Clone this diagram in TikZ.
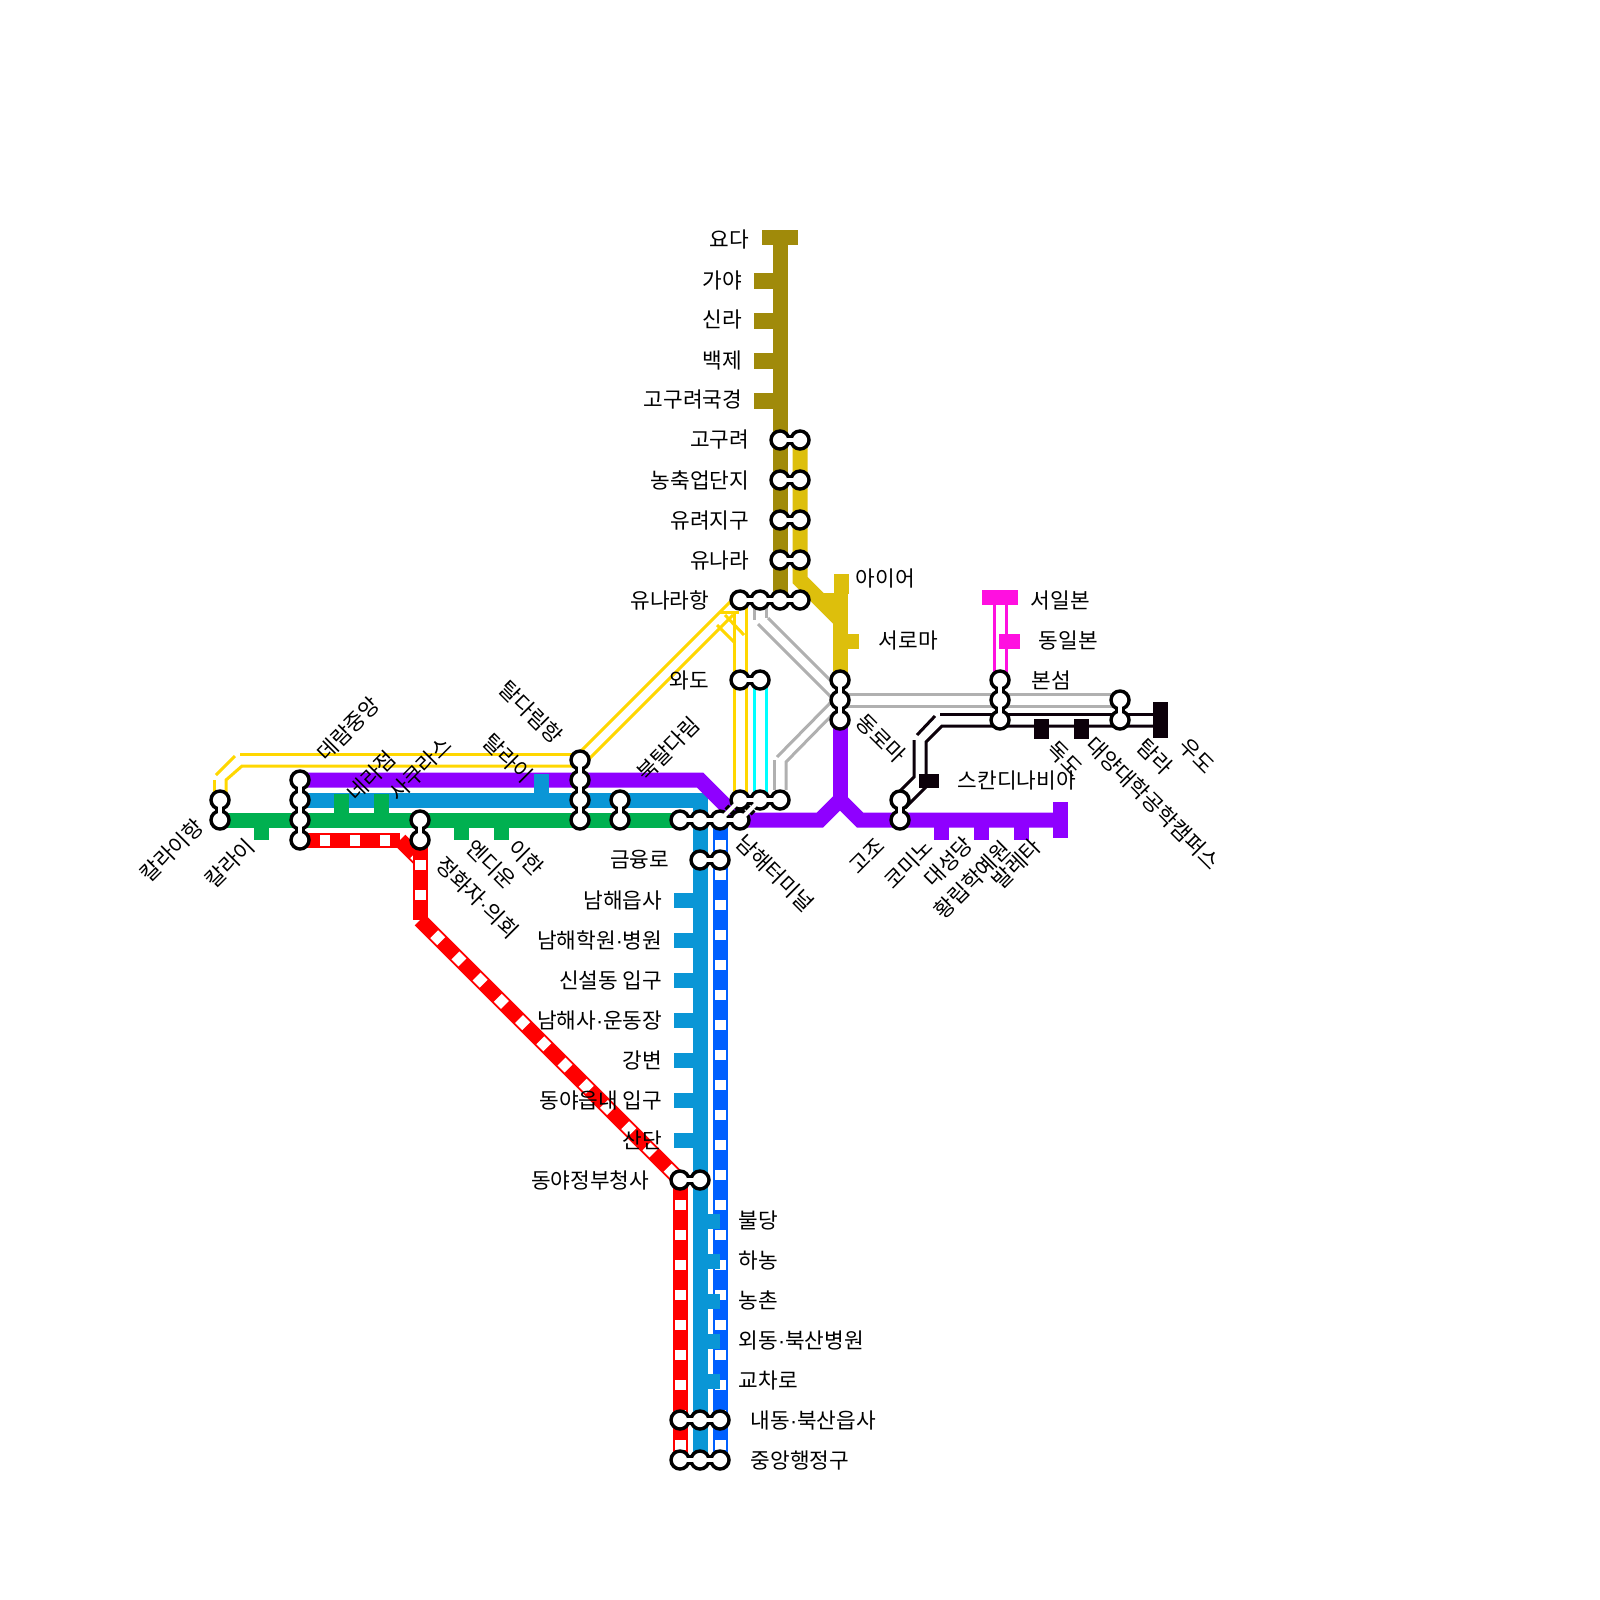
\documentclass[tikz,border=0pt]{standalone}
\usepackage{fontspec}
\setmainfont{Noto Sans CJK KR}
\newfontfamily\dotfont{Liberation Sans}
\usetikzlibrary{positioning,calc}
\definecolor{goldc}{RGB}{160,138,10}
\definecolor{yelc}{RGB}{221,191,12}
\definecolor{purc}{RGB}{143,0,255}
\definecolor{teac}{RGB}{10,150,214}
\definecolor{bluc}{RGB}{0,96,255}
\definecolor{grec}{RGB}{0,176,80}
\definecolor{redc}{RGB}{255,0,0}
\definecolor{cyac}{RGB}{0,255,255}
\definecolor{thiny}{RGB}{255,215,0}
\definecolor{magc}{RGB}{255,16,224}
\definecolor{grayc}{RGB}{176,176,176}
\definecolor{blkc}{RGB}{12,0,10}
\newcommand\mdot{{\dotfont ·}}

\begin{document}
\begin{tikzpicture}[
  x=0.01cm,y=-0.01cm,
  font=\fontsize{6.08}{7}\selectfont,
  thickln/.style={line width=1.5mm,color=#1},
  thinln/.style={line width=0.3mm,color=#1},
  wdash/.style={line width=1.1mm,white,dash pattern=on 1mm off 2mm,dash phase=1mm},
  hstop/.style={fill=#1,inner sep=0,minimum width=2.6mm,minimum height=1.5mm},
  vstop/.style={fill=#1,inner sep=0,minimum width=1.5mm,minimum height=2mm},
  hbar/.style={fill=#1,inner sep=0,minimum width=3.6mm,minimum height=1.5mm},
  vbar/.style={fill=#1,inner sep=0,minimum width=1.5mm,minimum height=3.6mm},
  xferblack/.style={circle,fill=black,inner sep=0,minimum size=2.15mm},
  xferwhite/.style={circle,fill=white,inner sep=0,minimum size=1.42mm},
  neckblack/.style={line width=1mm,black},
  neckwhite/.style={line width=0.42mm,white,shorten <=-0.6mm,shorten >=-0.6mm},
  lble/.style={anchor=east,inner sep=0},
  lblw/.style={anchor=west,inner sep=0},
  lblup/.style={rotate=45,anchor=#1,inner sep=0},
  lbldn/.style={rotate=-45,anchor=#1,inner sep=0}
]
\useasboundingbox (0,0) rectangle (1600,1600);
% --- way points of the lines ---
\foreach \n/\x/\y in {go1/780/245,go2/780/600,
    ye1/800/440,ye2/800/580,ye3/840/620,ye4/840/593,ye5/840/680,ye6/820/600,ye7/840/600,
    pu1/300/780,pu2/700/780,pu3/740/820,pu4/820/820,pu5/840/800,pu6/840/720,pu7/860/820,pu8/1060/820,
    te1/300/800,te2/700/800,te3/700/1460,
    gr1/220/820,gr2/680/820,
    bl1/720/820,bl2/720/1460,
    re1/300/840,re2/400/840,re3/420/860,re4/420/840,re5/420/920,re6/680/1180,re7/680/1460}
  \coordinate(\n) at(\x,\y);
\foreach \n/\x/\y in {ao1/214/800,ao2/214/780,ao3/216/775,ao4/235/756,ao5/240/754,ao6/580/754,ao7/580/752,ao8/732/600,
    ai1/226/800,ai2/226/780,ai3/242/766,ai4/580/766,ai5/586/762,ai6/733/615,
    cr1/720/612,cr2/739/612,cr3/717/625,cr4/735/643,cr5/725/615,cr6/744/635,
    vy1/734/613,vy2/734/800,vy3/746/600,vy4/746/800,
    cy1/754/680,cy2/754/800,cy3/766/680,cy4/766/800,
    ga1/754/600,ga2/754/620,ga3/758/624,ga4/835/701,ga5/766/600,ga6/766/618,ga7/768/618,ga8/834/684,
    gb1/774/790,gb2/774/760,gb3/777/757,gb4/835/698,gb5/786/790,gb6/786/762,gb7/835/712,
    gc1/840/694,gc2/1120/694,gc3/840/706,gc4/1120/706,
    bk1/1160/714,bk2/940/714,bk3/935/716,bk4/917/735,bk5/914/740,bk6/914/777,bk7/895/796,
    bk8/1160/726,bk9/942/726,bk10/926/742,bk11/926/787,bk12/905/808,
    mg1/994/605,mg2/994/680,mg3/1006/605,mg4/1006/680}
  \coordinate(\n) at(\x,\y);
% --- thin double lines ---
\draw[thinln=thiny](ao1)--(ao2);
\draw[thinln=thiny](ao3)--(ao4);
\draw[thinln=thiny](ao5)--(ao6);
\draw[thinln=thiny](ao7)--(ao8);
\draw[thinln=thiny](ai1)--(ai2)--(ai3)--(ai4);
\draw[thinln=thiny](ai5)--(ai6);
\draw[thinln=thiny](cr1)--(cr2);
\draw[thinln=thiny](cr3)--(cr4);
\draw[thinln=thiny](cr5)--(cr6);
\draw[thinln=thiny](vy1)--(vy2);
\draw[thinln=thiny](vy3)--(vy4);
\draw[thinln=cyac](cy1)--(cy2);
\draw[thinln=cyac](cy3)--(cy4);
\draw[thinln=grayc](ga1)--(ga2);
\draw[thinln=grayc](ga3)--(ga4);
\draw[thinln=grayc](ga5)--(ga6);
\draw[thinln=grayc](ga7)--(ga8);
\draw[thinln=grayc](gb1)--(gb2);
\draw[thinln=grayc](gb3)--(gb4);
\draw[thinln=grayc](gb5)--(gb6)--(gb7);
\draw[thinln=grayc](gc1)--(gc2);
\draw[thinln=grayc](gc3)--(gc4);
\draw[thinln=blkc](bk1)--(bk2);
\draw[thinln=blkc](bk3)--(bk4);
\draw[thinln=blkc](bk5)--(bk6)--(bk7);
\draw[thinln=blkc](bk8)--(bk9)--(bk10)--(bk11)--(bk12);
\draw[thinln=magc](mg1)--(mg2);
\draw[thinln=magc](mg3)--(mg4);
% --- thick lines ---
\draw[thickln=goldc](go1)--(go2);
\draw[thickln=yelc](ye1)--(ye2)--(ye3);
\draw[thickln=yelc](ye4)--(ye5);
\draw[thickln=yelc](ye6)--(ye7);
\draw[thickln=bluc](bl1)--(bl2);
\draw[wdash](bl1)--(bl2);
\draw[thickln=teac](te1)--(te2)--(te3);
\draw[thickln=grec](gr1)--(gr2);
\draw[thickln=purc](pu1)--(pu2)--(pu3)--(pu4)--(pu5)--(pu7)--(pu8);
\draw[thickln=purc](pu6)--(pu5);
\foreach \a/\b in {re1/re2,re2/re3,re4/re5,re5/re6,re6/re7}{
  \draw[thickln=redc](\a)--(\b);
  \draw[wdash](\a)--(\b);
}
% --- stops on the lines ---
\node[hbar=goldc](yoda) at(780,237.5){};
\foreach \n/\y in {gaya/281,silla/321,baekje/361,gyeong/401}
  \node[hstop=goldc](\n) at(767,\y){};
\foreach \n/\y in {eupsa/900.5,hakwon/940.5,sinseol/980.5,undong/1020.5,gangbyeon/1060.5,naeip/1100.5,sandan/1140.5}
  \node[hstop=teac](\n) at(687,\y){};
\foreach \n/\y in {buldang/1221,hanong/1261,nongchon/1301,oedong/1341,gyocha/1381}
  \node[hstop=teac,minimum width=2mm](\n) at(710,\y){};
\node[vstop=teac,minimum height=2.6mm](talai) at(541.5,787){};
\foreach \n/\x in {kalai/261.5,endi/461.5,ihan/501.5}
  \node[vstop=grec](\n) at(\x,829.5){};
\foreach \n/\x in {nera/341.5,sakura/381.5}
  \node[vstop=grec,minimum height=2.6mm](\n) at(\x,807){};
\foreach \n/\x in {seongdang/941.5,hakye/981.5,balle/1021.5}
  \node[vstop=purc](\n) at(\x,829.5){};
\node[vbar=purc](udoend) at(1060.5,820){};
\foreach \n/\x in {dokdo/1041.5,daeyang/1081.5}
  \node[vstop=blkc](\n) at(\x,729){};
\node[vbar=blkc](udo) at(1160.5,720){};
\node[hstop=blkc,minimum width=2mm,minimum height=1.4mm](skandi) at(929,781){};
\node[hbar=magc](seoil) at(1000,597.5){};
\node[hstop=magc,minimum width=2.1mm](dongil) at(1009.5,641.5){};
\node[vstop=yelc](aiyeo) at(841.5,584){};
\node[hstop=yelc,minimum width=1.6mm](seoroma) at(851,641){};
% --- interchange stations ---
\def\xferlist{kh1/220/800,kh2/220/820,dr1/300/780,dr2/300/800,dr3/300/820,dr4/300/840,
  jh1/420/820,jh2/420/840,td1/580/760,td2/580/780,td3/580/800,td4/580/820,bt1/620/800,bt2/620/820,
  nh1/680/820,nh2/700/820,nh3/720/820,nh4/740/820,nh5/740/800,nh6/760/800,nh7/780/800,
  gy1/700/860,gy2/720/860,dj1/680/1180,dj2/700/1180,
  nd1/680/1420,nd2/700/1420,nd3/720/1420,jg1/680/1460,jg2/700/1460,jg3/720/1460,
  gg1/780/440,gg2/800/440,ng1/780/480,ng2/800/480,yr1/780/520,yr2/800/520,yn1/780/560,yn2/800/560,
  yh1/740/600,yh2/760/600,yh3/780/600,yh4/800/600,wd1/740/680,wd2/760/680,
  dl1/840/680,dl2/840/700,dl3/840/720,bs1/1000/680,bs2/1000/700,bs3/1000/720,
  tm1/1120/700,tm2/1120/720,km1/900/800,km2/900/820}
\def\necklist{kh1/kh2,dr1/dr2,dr2/dr3,dr3/dr4,jh1/jh2,td1/td2,td2/td3,td3/td4,bt1/bt2,
  nh1/nh2,nh2/nh3,nh3/nh4,nh5/nh6,nh6/nh7,nh3/nh5,nh4/nh6,
  gy1/gy2,dj1/dj2,nd1/nd2,nd2/nd3,jg1/jg2,jg2/jg3,
  gg1/gg2,ng1/ng2,yr1/yr2,yn1/yn2,yh1/yh2,yh2/yh3,yh3/yh4,wd1/wd2,
  dl1/dl2,dl2/dl3,bs1/bs2,bs2/bs3,tm1/tm2,km1/km2}
\foreach \n/\x/\y in \xferlist
  \node[xferblack](\n) at(\x,\y){};
\foreach \a/\b in \necklist
  \draw[neckblack](\a)--(\b);
\foreach \n/\x/\y in \xferlist
  \node[xferwhite](\n w) at(\x,\y){};
\foreach \a/\b in \necklist
  \draw[neckwhite](\a w)--(\b w);
% --- labels, left of the line ---
\foreach \n/\x/\y/\t in {l1/750/240/요다,l2/743/280/가야,l3/743/320/신라,l4/743/360/백제,l5/743/400/고구려국경,
    l6/750/440/고구려,l7/750/480/농축업단지,l8/750/520/유려지구,l9/750/560/유나라,l10/710/600/유나라항,
    l11/710/680/와도,l12/670/860/금융로,l13/663/900/남해읍사,l14/663/940/남해학원\mdot 병원,l15/663/980/신설동 입구,
    l16/663/1020/남해사\mdot 운동장,l17/663/1060/강변,l18/663/1100/동야읍내 입구,l19/663/1140/산단,l20/650/1180/동야정부청사}
  \node[lble](\n) at(\x,\y){\t};
% --- labels, right of the line ---
\foreach \n/\x/\y/\t in {r1/738/1220/불당,r2/738/1260/하농,r3/738/1300/농촌,r4/738/1340/외동\mdot 북산병원,r5/738/1380/교차로,
    r6/750/1420/내동\mdot 북산읍사,r7/750/1460/중앙행정구,r8/855/578/아이어,r9/878/640/서로마,
    r10/1030/600/서일본,r11/1038/640/동일본,r12/1031/680/본섬,r13/957/780/스칸디나비아}
  \node[lblw](\n) at(\x,\y){\t};
% --- slanted labels ---
\foreach \n/\x/\y/\t in {u1/200/822/칼라이항,u2/251/842/칼라이}
  \node[lblup=east](\n) at(\x,\y){\t};
\foreach \n/\x/\y/\t in {u3/320/757/데람중앙,u4/350/797/네라점,u5/392/797/사쿠라스,u6/640/777/북탈다림,
    u7/852/870/고조,u8/887/885/코미노,u9/927/883/대성당,u10/937/915/황립학예원,u11/995/885/발레타}
  \node[lblup=west](\n) at(\x,\y){\t};
\foreach \n/\x/\y/\t in {d1/487/737/탈라이,d2/503/684/탈다림항,d3/470/843/엔디운,d4/512/843/이한,d5/440/860/정화자\mdot 의회,
    d6/740/838/남해터미널,d7/860/717/동로마,d8/1050/745/독도,d9/1090/740/대양대학공학캠퍼스,d10/1141/742/탐라,d11/1182/742/우도}
  \node[lbldn=west](\n) at(\x,\y){\t};
\end{tikzpicture}
\end{document}
